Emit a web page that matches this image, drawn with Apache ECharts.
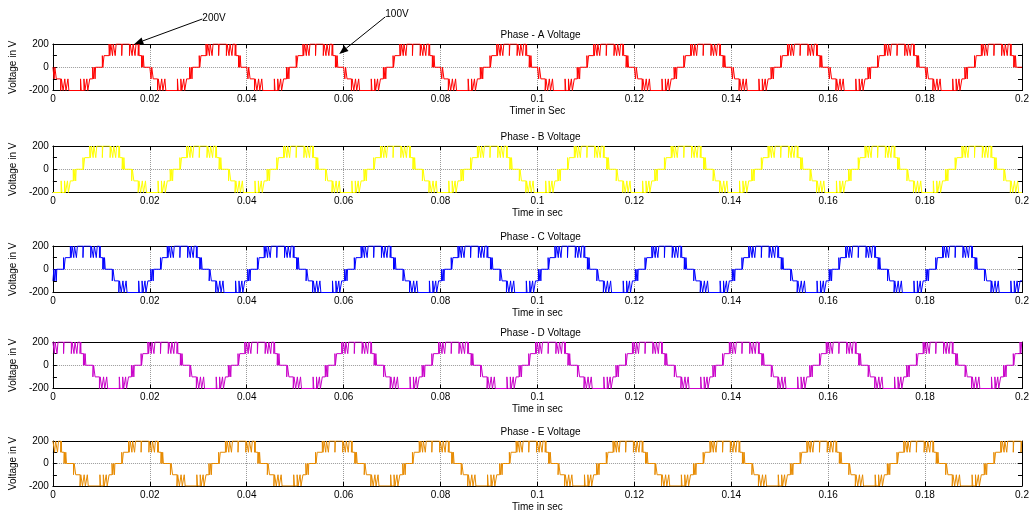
<!DOCTYPE html>
<html><head><meta charset="utf-8">
<script src="https://cdn.jsdelivr.net/npm/echarts@6/dist/echarts.min.js"></script>
<style>html,body{margin:0;padding:0;background:#fff}#c{width:1033px;height:513px}</style>
</head><body><div id="c"></div>
<script>
// ---- data (one measured period per phase, times in ms within the 20 ms period) ----
const periodMs = 20;
const periodCount = 10;
const xTickLabels = ['0','0.02','0.04','0.06','0.08','0.1','0.12','0.14','0.16','0.18','0.2'];
const yTickLabels = ['-200','0','200'];
const titles = ['Phase - A Voltage','Phase - B Voltage','Phase - C Voltage','Phase - D Voltage','Phase - E Voltage'];
const xNames = ['Timer in Sec','Time in sec','Time in sec','Time in sec','Time in sec'];
const yName = 'Voltage in V';
const colors = ['#ff0000','#ffff00','#0000ff','#c800c8','#e68a00'];

const phaseA = [[0,0],[0.25,-100],[0.4,0],[0.7,-100],[1.6,-200],[1.75,-100],[2.1,-200],[2.45,-100],[2.7,-200],[3.1,-100],[3.3,-200],[5.7,-100],[5.85,-200],[6.4,-100],[6.6,-200],[7.0,-100],[7.2,-200],[7.6,-100],[8.2,0],[8.35,-100],[8.55,0],[8.7,-100],[8.8,0],[10.2,100],[10.3,0],[10.55,100],[11.6,200],[11.75,100],[11.95,200],[12.3,100],[12.45,200],[12.85,100],[13.05,200],[14.2,100],[14.3,200],[15.8,100],[15.95,200],[16.35,100],[16.55,200],[16.95,100],[17.15,200],[17.6,100],[17.75,200],[17.8,100],[18.3,0],[18.4,100],[18.55,0],[18.65,100],[18.8,0]];
const phaseB = [[0,-200],[1.7,-100],[1.85,-200],[2.4,-100],[2.6,-200],[3.0,-100],[3.2,-200],[3.6,-100],[4.2,0],[4.35,-100],[4.55,0],[4.7,-100],[4.8,0],[6.2,100],[6.3,0],[6.55,100],[7.6,200],[7.75,100],[7.95,200],[8.3,100],[8.45,200],[8.85,100],[9.05,200],[10.2,100],[10.3,200],[11.8,100],[11.95,200],[12.35,100],[12.55,200],[12.95,100],[13.15,200],[13.6,100],[13.75,200],[13.8,100],[14.3,0],[14.4,100],[14.55,0],[14.65,100],[14.8,0],[16.25,-100],[16.4,0],[16.7,-100],[17.6,-200],[17.75,-100],[18.1,-200],[18.45,-100],[18.7,-200],[19.1,-100],[19.3,-200]];
const phaseC = [[0,-100],[0.2,0],[0.35,-100],[0.55,0],[0.7,-100],[0.8,0],[2.2,100],[2.3,0],[2.55,100],[3.6,200],[3.75,100],[3.95,200],[4.3,100],[4.45,200],[4.85,100],[5.05,200],[6.2,100],[6.3,200],[7.8,100],[7.95,200],[8.35,100],[8.55,200],[8.95,100],[9.15,200],[9.6,100],[9.75,200],[9.8,100],[10.3,0],[10.4,100],[10.55,0],[10.65,100],[10.8,0],[12.25,-100],[12.4,0],[12.7,-100],[13.6,-200],[13.75,-100],[14.1,-200],[14.45,-100],[14.7,-200],[15.1,-100],[15.3,-200],[17.7,-100],[17.85,-200],[18.4,-100],[18.6,-200],[19.0,-100],[19.2,-200],[19.6,-100]];
const phaseD = [[0,200],[0.3,100],[0.45,200],[0.85,100],[1.05,200],[2.2,100],[2.3,200],[3.8,100],[3.95,200],[4.35,100],[4.55,200],[4.95,100],[5.15,200],[5.6,100],[5.75,200],[5.8,100],[6.3,0],[6.4,100],[6.55,0],[6.65,100],[6.8,0],[8.25,-100],[8.4,0],[8.7,-100],[9.6,-200],[9.75,-100],[10.1,-200],[10.45,-100],[10.7,-200],[11.1,-100],[11.3,-200],[13.7,-100],[13.85,-200],[14.4,-100],[14.6,-200],[15.0,-100],[15.2,-200],[15.6,-100],[16.2,0],[16.35,-100],[16.55,0],[16.7,-100],[16.8,0],[18.2,100],[18.3,0],[18.55,100],[19.6,200],[19.75,100],[19.95,200]];
const phaseE = [[0,200],[0.35,100],[0.55,200],[0.95,100],[1.15,200],[1.6,100],[1.75,200],[1.8,100],[2.3,0],[2.4,100],[2.55,0],[2.65,100],[2.8,0],[4.25,-100],[4.4,0],[4.7,-100],[5.6,-200],[5.75,-100],[6.1,-200],[6.45,-100],[6.7,-200],[7.1,-100],[7.3,-200],[9.7,-100],[9.85,-200],[10.4,-100],[10.6,-200],[11.0,-100],[11.2,-200],[11.6,-100],[12.2,0],[12.35,-100],[12.55,0],[12.7,-100],[12.8,0],[14.2,100],[14.3,0],[14.55,100],[15.6,200],[15.75,100],[15.95,200],[16.3,100],[16.45,200],[16.85,100],[17.05,200],[18.2,100],[18.3,200],[19.8,100],[19.95,200]];
const phases = [phaseA, phaseB, phaseC, phaseD, phaseE];

// ---- layout ----
const gridTops = [44, 146, 246, 342, 441];
const gridH = 46.5;
const gridLeft = 49, gridRight = 1033 - 1022;
const FONT = 'Liberation Sans, Arial, Helvetica, sans-serif';

function tile(p) {
  const out = [];
  for (let k = 0; k < periodCount; k++) for (const [ms, v] of p) out.push([(k * periodMs + ms) / 1000, v]);
  out.push([periodCount * periodMs / 1000, p[p.length - 1][1]]);
  return out;
}
const xLab = v => { const i = Math.round(v / 0.02); return xTickLabels[i] ?? ''; };
const yLab = v => yTickLabels.includes(String(v)) ? String(v) : '';

const grid = [], xAxis = [], yAxis = [], series = [], title = [];
gridTops.forEach((top, i) => {
  grid.push({ left: gridLeft, right: gridRight, top, height: gridH, show: false });
  const common = { gridIndex: i, type: 'value', min: 0, max: 0.2, interval: 0.02,
    axisLine: { show: true, onZero: false, lineStyle: { color: '#000', width: 1 } },
    axisTick: { show: true, inside: true, length: 4, lineStyle: { color: '#000' } } };
  xAxis.push(Object.assign({}, common, { position: 'bottom',
    axisLabel: { show: true, formatter: xLab, color: '#000', fontSize: 10, fontFamily: FONT, margin: 4 },
    splitLine: { show: true, lineStyle: { color: '#9a9a9a', type: 'dotted', width: 1 } },
    name: xNames[i], nameLocation: 'middle', nameGap: 16,
    nameTextStyle: { color: '#000', fontSize: 10, fontFamily: FONT } }));
  xAxis.push(Object.assign({}, common, { position: 'top', axisLabel: { show: false }, splitLine: { show: false } }));
  const ycommon = { gridIndex: i, type: 'value', min: -200, max: 200, interval: 200,
    axisLine: { show: true, onZero: false, lineStyle: { color: '#000', width: 1 } },
    axisTick: { show: true, inside: true, length: 4, lineStyle: { color: '#000' } },
    minorTick: { show: true, splitNumber: 2, length: 4, lineStyle: { color: '#000' } } };
  yAxis.push(Object.assign({}, ycommon, { position: 'left',
    axisLabel: { show: true, formatter: yLab, color: '#000', fontSize: 10, fontFamily: FONT, margin: 4 },
    splitLine: { show: true, lineStyle: { color: '#9a9a9a', type: 'dotted', width: 1 } },
    name: yName, nameLocation: 'middle', nameGap: 25,
    nameTextStyle: { color: '#000', fontSize: 10, fontFamily: FONT } }));
  yAxis.push(Object.assign({}, ycommon, { position: 'right', axisLabel: { show: false }, splitLine: { show: false } }));
  series.push({ type: 'line', xAxisIndex: 2 * i, yAxisIndex: 2 * i, data: tile(phases[i]), step: 'end',
    symbol: 'none', showSymbol: false, sampling: null, animation: false, clip: true,
    lineStyle: { color: colors[i], width: 1 }, itemStyle: { color: colors[i] } });
  title.push({ text: titles[i], left: (gridLeft + 1022) / 2, top: top - 19, textAlign: 'center',
    textStyle: { fontSize: 10, fontWeight: 'normal', color: '#000', fontFamily: FONT } });
});

const chart = echarts.init(document.getElementById('c'), null, { renderer: 'canvas' });
chart.setOption({ animation: false, backgroundColor: '#fff', title, grid, xAxis, yAxis, series });

// ---- annotation arrows (tips located through the axis scales) ----
function arrow(tip, tail) {
  const dx = tip[0] - tail[0], dy = tip[1] - tail[1], L = Math.hypot(dx, dy);
  const ux = dx / L, uy = dy / L, hl = 9, hw = 3.5;
  const bx = tip[0] - ux * hl, by = tip[1] - uy * hl;
  return [
    { type: 'line', shape: { x1: tail[0], y1: tail[1], x2: bx, y2: by }, style: { stroke: '#000', lineWidth: 1 }, z: 100 },
    { type: 'polygon', shape: { points: [tip, [bx - uy * hw, by + ux * hw], [bx + uy * hw, by - ux * hw]] }, style: { fill: '#000' }, z: 100 }
  ];
}
const tip1 = chart.convertToPixel({ xAxisIndex: 0, yAxisIndex: 0 }, [0.0168, 200]);
const tip2 = chart.convertToPixel({ xAxisIndex: 0, yAxisIndex: 0 }, [0.0591, 115]);
const g = [];
g.push(...arrow(tip1, [tip1[0] + 68, tip1[1] - 25]));
g.push(...arrow(tip2, [tip2[0] + 46, tip2[1] - 37]));
g.push({ type: 'text', x: tip1[0] + 68, y: tip1[1] - 31, style: { text: '200V', fill: '#000', font: '10px ' + FONT }, z: 100 });
g.push({ type: 'text', x: tip2[0] + 46, y: tip2[1] - 45, style: { text: '100V', fill: '#000', font: '10px ' + FONT }, z: 100 });
chart.setOption({ graphic: g });
</script></body></html>
